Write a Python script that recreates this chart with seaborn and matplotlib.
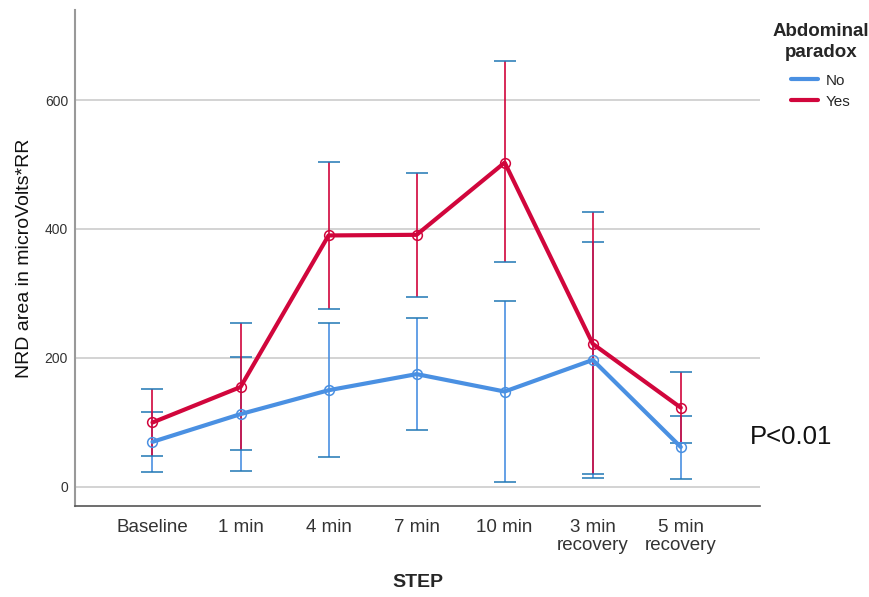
import pandas as pd
import seaborn as sns
import matplotlib.pyplot as plt
from matplotlib.lines import Line2D

# Steps on the x axis
steps = ['Baseline', '1 min', '4 min', '7 min', '10 min',
         '3 min\nrecovery', '5 min\nrecovery']

# Mean NRD area and error bar ends
no_mean = [70, 113, 150, 175, 148, 197, 62]
no_low = [23, 25, 47, 88, 8, 14, 12]
no_high = [116, 202, 254, 262, 289, 380, 110]

yes_mean = [100, 155, 390, 391, 503, 222, 123]
yes_low = [48, 57, 276, 295, 349, 20, 68]
yes_high = [152, 254, 504, 487, 660, 426, 178]

groups = ['No', 'Yes']
colors = {'No': '#4A90E2', 'Yes': '#D1063C'}

# Long form table for seaborn
df = pd.DataFrame({
    'pos': list(range(len(steps))) * 2,
    'step': steps * 2,
    'group': ['No'] * len(steps) + ['Yes'] * len(steps),
    'mean': no_mean + yes_mean,
    'low': no_low + yes_low,
    'high': no_high + yes_high,
})

sns.set_style('white')
plt.rcParams['font.family'] = ['Liberation Sans', 'DejaVu Sans']

fig = plt.figure(figsize=(8.7, 5.97), dpi=100)
ax = fig.add_axes([0.0862, 0.1524, 0.7874, 0.8308])

# Error bars first, so the lines sit on top
for g in groups:
    d = df[df['group'] == g]
    ax.errorbar(d['pos'], d['mean'],
                yerr=[d['mean'] - d['low'], d['high'] - d['mean']],
                fmt='none', ecolor=colors[g], elinewidth=1.2,
                capsize=8, capthick=1.2, zorder=2)

sns.lineplot(data=df, x='pos', y='mean', hue='group', hue_order=groups,
             palette=colors, marker='o', markersize=7, mfc='none',
             linewidth=3, legend=False, ax=ax, zorder=3)

# open circle markers in the line colour
for line in ax.lines:
    line.set_markeredgecolor(line.get_color())
    line.set_markeredgewidth(1.1)

# Axes styling
ax.set_xlim(-0.88, 6.9)
ax.set_ylim(-29.5, 739.5)
ax.set_yticks([0, 200, 400, 600])
ax.set_xticks(range(len(steps)))
ax.set_xticklabels(steps, fontsize=13.5, color='#333333', linespacing=1.15)
ax.tick_params(axis='y', labelsize=10, colors='#333333', length=0, pad=5)
ax.tick_params(axis='x', length=0, pad=9)
ax.grid(axis='y', color='#CCCCCC', linewidth=1.2)
ax.grid(axis='x', visible=False)

for side in ['top', 'right']:
    ax.spines[side].set_visible(False)
ax.spines['left'].set_color('#999999')
ax.spines['left'].set_linewidth(1.5)
ax.spines['bottom'].set_color('#555555')
ax.spines['bottom'].set_linewidth(1.2)

ax.set_xlabel('STEP', fontsize=14, fontweight='bold', labelpad=14)
ax.set_ylabel('NRD area in microVolts*RR', fontsize=14, color='#111111')
ax.yaxis.set_label_coords(-0.062, 0.5)

# Legend
handles = [Line2D([0], [0], color=colors[g], lw=3) for g in groups]
leg = ax.legend(handles, groups, title='Abdominal\nparadox',
                loc='upper left', bbox_to_anchor=(0.881, 0.971),
                bbox_transform=fig.transFigure, frameon=False,
                fontsize=11, title_fontproperties={'weight': 'bold', 'size': 13.5},
                handlelength=1.8, handletextpad=0.5, labelspacing=0.45,
                borderaxespad=0, alignment='center')
leg.get_title().set_multialignment('center')
leg.get_title().set_linespacing(1.3)
leg._legend_box.sep = 9

# p value note
fig.text(0.862, 0.257, 'P<0.01', fontsize=18.5, color='#111111')

plt.savefig('out.png', dpi=100)
